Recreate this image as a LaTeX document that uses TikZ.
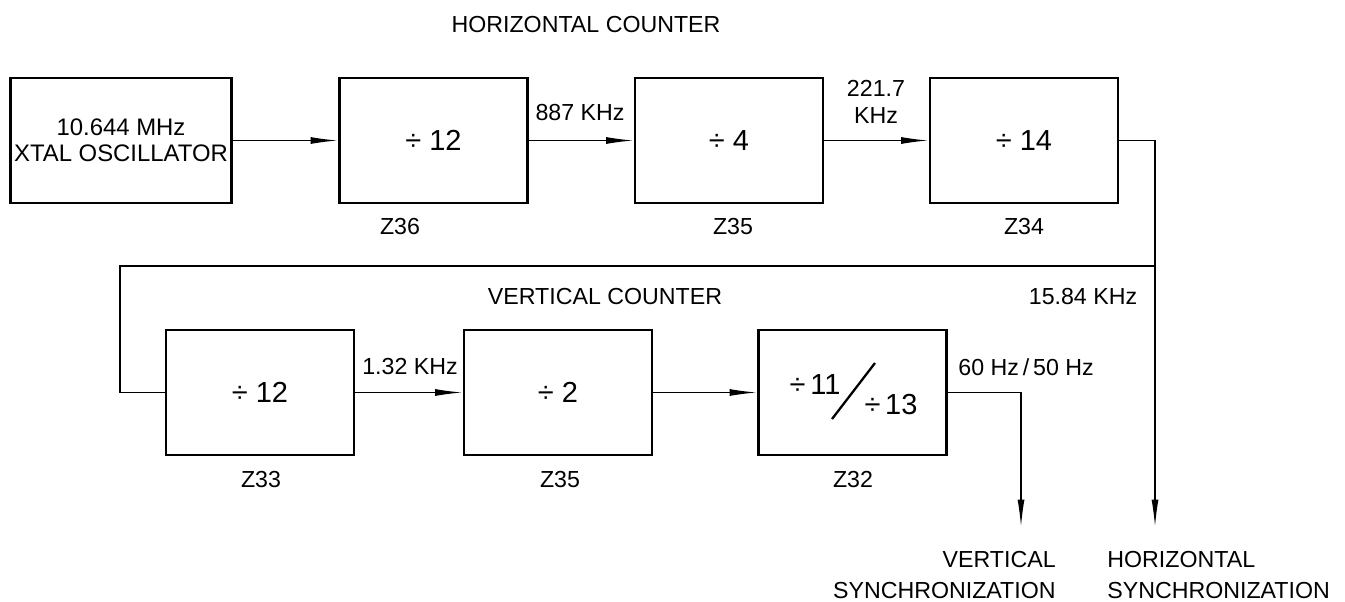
\documentclass[tikz,border=0pt]{standalone}
\usepackage{fontspec}
\setmainfont{Liberation Sans}
\usepackage{tikz}
\usetikzlibrary{arrows.meta, positioning}
\tikzset{
  box/.style={draw, line width=1.6pt, minimum width=3.76cm, minimum height=2.5cm, inner sep=0pt, font=\fontsize{16.5}{19}\selectfont},
  lbl/.style={inner sep=0pt, font=\fontsize{13.2}{15.3}\selectfont},
  wire/.style={line width=0.8pt},
  arr/.style={wire, -{Latex[length=0.55cm, width=0.14cm]}}
}
\begin{document}
\begin{tikzpicture}
				\useasboundingbox (0,0) rectangle (26.9,-12.04);
				\node[box, minimum width=4.42cm, font=\fontsize{13.6}{14.7}\selectfont, align=center] (osc) at (2.42,-2.81) {10.644 MHz\\XTAL OSCILLATOR};
				\node[box] (h1) at (8.67,-2.81) {÷ 12};
				\node[box] (h2) at (14.58,-2.81) {÷ 4};
				\node[box] (h3) at (20.48,-2.81) {÷ 14};
				\node[box] (v1) at (5.2,-7.85) {÷ 12};
				\node[box] (v2) at (11.16,-7.85) {÷ 2};
				\node[box] (v3) at (17.05,-7.85) {};
				\node[lbl, font=\fontsize{16.5}{19}\selectfont] (d11) at (16.3,-7.7) {÷\,11};
				\node[lbl, font=\fontsize{16.5}{19}\selectfont] (d13) at (17.82,-8.1) {÷\,13};
				\draw[line width=1.3pt] (16.64,-8.38) -- (17.5,-7.26);
				\node[lbl] (hc) at (11.72,-0.5) {HORIZONTAL COUNTER};
				\node[lbl] (vc) at (12.1,-5.94) {VERTICAL COUNTER};
				\node[lbl] (z36) at (8.0,-4.54) {Z36};
				\node[lbl] (z35a) at (14.66,-4.54) {Z35};
				\node[lbl] (z34) at (20.48,-4.54) {Z34};
				\node[lbl] (z33) at (5.22,-9.6) {Z33};
				\node[lbl] (z35b) at (11.2,-9.6) {Z35};
				\node[lbl] (z32) at (17.06,-9.6) {Z32};
				\node[lbl] (f1) at (11.6,-2.26) {887 KHz};
				\node[lbl, align=center] (f2) at (17.52,-2.04) {221.7\\KHz};
				\node[lbl] (f3) at (21.66,-5.94) {15.84 KHz};
				\node[lbl] (f4) at (8.2,-7.34) {1.32 KHz};
				\node[lbl, anchor=west] (f5) at (19.16,-7.34) {60 Hz\,/\,50 Hz};
				\node[lbl, anchor=east, align=right] (vsync) at (21.12,-11.5) {VERTICAL\\[2pt]SYNCHRONIZATION};
				\node[lbl, anchor=west, align=left] (hsync) at (22.14,-11.5) {HORIZONTAL\\[2pt]SYNCHRONIZATION};
				\coordinate (hs) at (23.1,-10.54);
				\coordinate (vs) at (20.42,-10.54);
				\coordinate (j) at (23.1,-5.32);
				\draw[arr] (osc) -- (h1);
				\draw[arr] (h1) -- (h2);
				\draw[arr] (h2) -- (h3);
				\draw[arr] (h3.east) -| (hs);
				\draw[wire] (j) -- ++(-20.7,0) |- (v1.west);
				\draw[arr] (v1) -- (v2);
				\draw[arr] (v2) -- (v3);
				\draw[arr] (v3.east) -| (vs);
			\end{tikzpicture}
\end{document}
